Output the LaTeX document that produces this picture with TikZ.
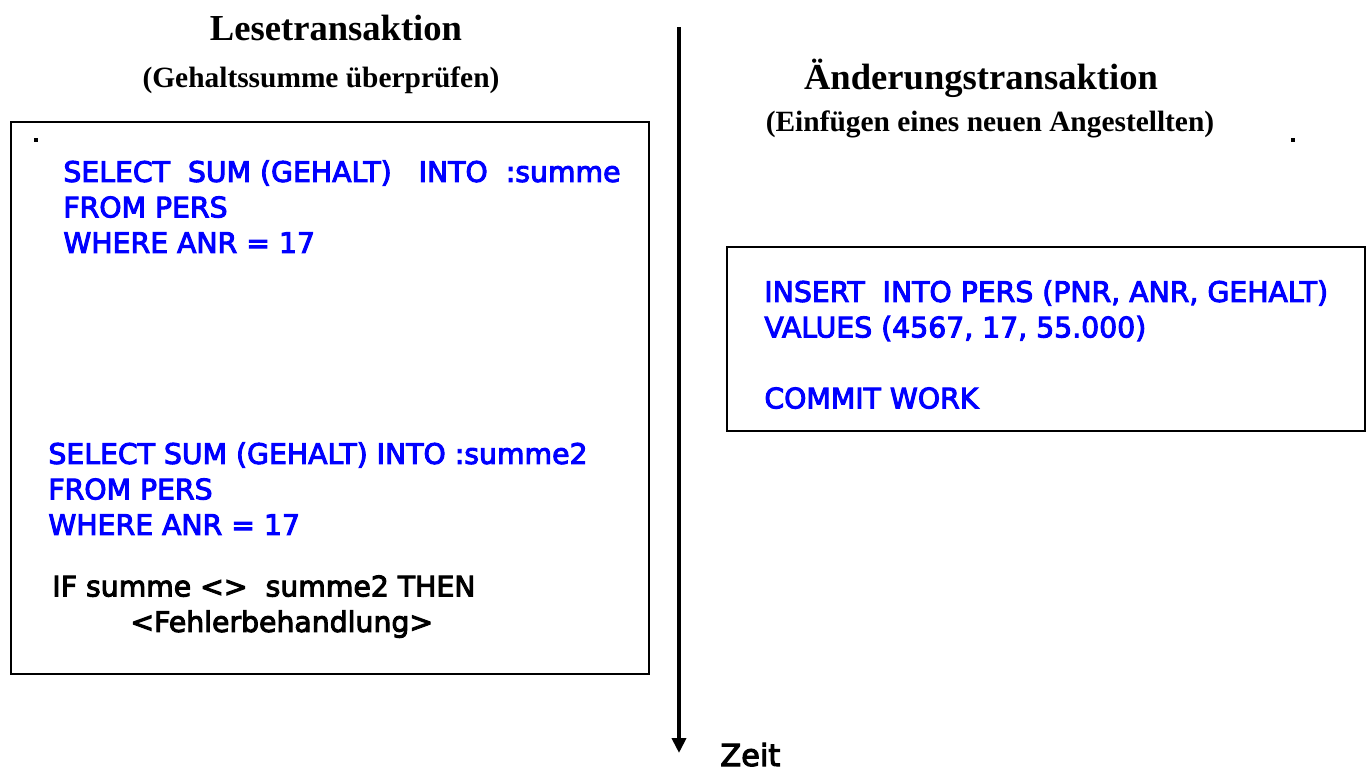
\documentclass[tikz,border=0pt]{standalone}
\usepackage{fontspec}
\setmainfont{Liberation Serif}
\newfontfamily\sqlfont{DejaVu Sans}[FakeBold=3.5]
\usetikzlibrary{positioning,arrows.meta}
\definecolor{sqlblue}{RGB}{0,0,255}
\tikzstyle{ttitle}=[inner sep=0pt, font=\bfseries\fontsize{18.3}{22}\selectfont]
\tikzstyle{tsub}=[inner sep=0pt, font=\bfseries\fontsize{14.7}{16}\selectfont]
\tikzstyle{sqltext}=[inner sep=0pt, anchor=north west, align=left, text=sqlblue,
                     font=\sqlfont\fontsize{14.15}{17.75}\selectfont]
\tikzstyle{plaintext}=[sqltext, text=black]
\tikzstyle{txbox}=[rectangle, draw=black, line width=0.8pt, anchor=north west,
                   inner sep=0pt]
\tikzstyle{tdot}=[rectangle, fill=black, inner sep=0pt, minimum size=1.6pt]
\tikzstyle{timeline}=[line width=2pt, -{Triangle[width=7pt,length=7.5pt]}]

\begin{document}
\begin{tikzpicture}[x=0.5pt, y=-0.5pt]
\useasboundingbox (0,0) rectangle (1370,773);

% Lesetransaktion
\node (leseT) [ttitle] at (336,28) {Lesetransaktion};
\node (leseS) [tsub] at (321,80) {(Gehaltssumme überprüfen)};
\node (readbox) [txbox, minimum width=319pt, minimum height=276pt] at (10,121) {};
\node (dotL) [tdot] at (36,140) {};
\node (sel1) [sqltext] at (63,160) {SELECT\ \ SUM (GEHALT)\ \ \ INTO\ \ :summe\\FROM PERS\\WHERE ANR = 17};
\node (sel2) [sqltext] at (48,442) {SELECT SUM (GEHALT) INTO :summe2\\FROM PERS\\WHERE ANR = 17};
\node (check) [plaintext] at (52,575) {IF summe <>\ \ summe2 THEN\\\hspace*{39pt}<Fehlerbehandlung>};

% Aenderungstransaktion
\node (aendT) [ttitle] at (981,78) {Änderungstransaktion};
\node (aendS) [tsub] at (990,124) {(Einfügen eines neuen Angestellten)};
\node (dotR) [tdot] at (1293,140) {};
\node (writebox) [txbox, minimum width=319pt, minimum height=92pt] at (726,246) {};
\node (ins) [sqltext] at (764,280) {INSERT\ \ INTO PERS (PNR, ANR, GEHALT)\\VALUES (4567, 17, 55.000)\\[17.75pt]COMMIT WORK};

% Zeitachse
\coordinate (tstart) at (679,27);
\coordinate (tend) at (679,753);
\draw[timeline] (tstart) -- (tend);
\node (zeit) [plaintext, anchor=base west, font=\sqlfont\fontsize{15.2}{17}\selectfont] at (720,766) {Zeit};

\end{tikzpicture}
\end{document}
